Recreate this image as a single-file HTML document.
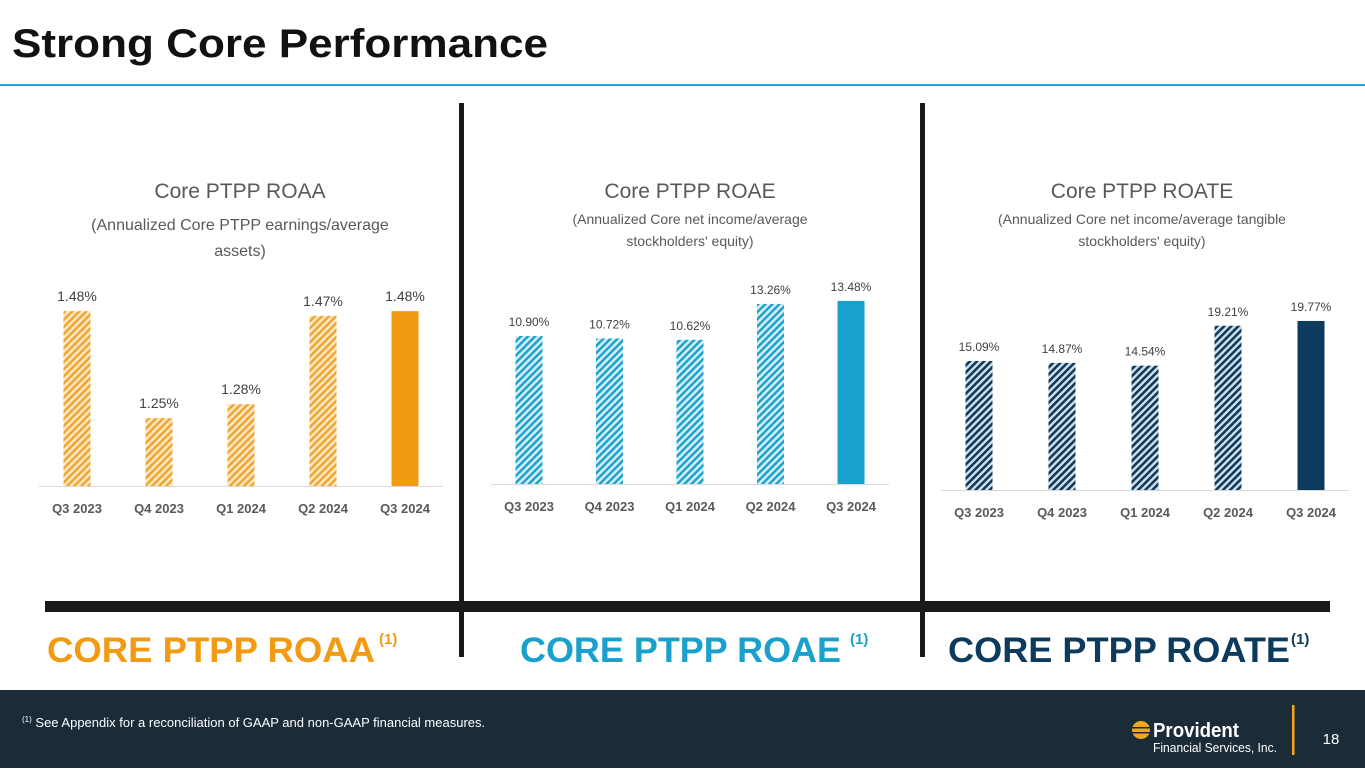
<!DOCTYPE html>
<html><head><meta charset="utf-8"><style>
body{margin:0;width:1365px;height:768px;overflow:hidden;background:#fff;font-family:"Liberation Sans",sans-serif}
svg text{font-family:"Liberation Sans",sans-serif}
</style></head><body>
<svg id="s" width="1365" height="768" viewBox="0 0 1365 768" xmlns="http://www.w3.org/2000/svg">
<defs>
<pattern id="hO" width="5" height="5" patternUnits="userSpaceOnUse" patternTransform="rotate(45)"><rect width="5" height="5" fill="#fde7bf"/><rect width="2.4" height="5" fill="#f0a330"/></pattern>
<pattern id="hB" width="5" height="5" patternUnits="userSpaceOnUse" patternTransform="rotate(45)"><rect width="5" height="5" fill="#d2eef8"/><rect width="2.4" height="5" fill="#1aa0cc"/></pattern>
<pattern id="hN" width="5" height="5" patternUnits="userSpaceOnUse" patternTransform="rotate(45)"><rect width="5" height="5" fill="#d5e0ea"/><rect width="2.6" height="5" fill="#0d3b5e"/></pattern>
</defs>
<text x="12" y="57" font-size="40" font-weight="bold" fill="#111" textLength="536" lengthAdjust="spacingAndGlyphs">Strong Core Performance</text>
<rect x="0" y="84" width="1365" height="2" fill="#2aa3d8"/>
<rect x="459" y="103" width="5" height="554" fill="#1a1a1a"/>
<rect x="920" y="103" width="5" height="554" fill="#1a1a1a"/>
<rect x="45" y="601" width="1285" height="11" fill="#1a1a1a"/>
<g id="charts"></g>
<text x="47" y="662" font-size="35" font-weight="bold" fill="#f29a11" textLength="328" lengthAdjust="spacingAndGlyphs">CORE PTPP ROAA</text>
<text x="379" y="644" font-size="15" font-weight="bold" fill="#f29a11">(1)</text>
<text x="520" y="662" font-size="35" font-weight="bold" fill="#1aa0cc" textLength="321" lengthAdjust="spacingAndGlyphs">CORE PTPP ROAE</text>
<text x="850" y="644" font-size="15" font-weight="bold" fill="#1aa0cc">(1)</text>
<text x="948" y="662" font-size="35" font-weight="bold" fill="#0d3b5e" textLength="342" lengthAdjust="spacingAndGlyphs">CORE PTPP ROATE</text>
<text x="1291" y="644" font-size="15" font-weight="bold" fill="#0d3b5e">(1)</text>
<rect x="0" y="690" width="1365" height="78" fill="#1b2b38"/>
<text x="22" y="727" font-size="13" fill="#fff"><tspan font-size="8" dy="-5">(1)</tspan><tspan dy="5"> See Appendix for a reconciliation of GAAP and non-GAAP financial measures.</tspan></text>
<g>
<circle cx="1141" cy="730" r="9" fill="#f0a81c"/>
<rect x="1131" y="727" width="20" height="1.5" fill="#1b2b38"/><rect x="1131" y="732" width="20" height="1.5" fill="#1b2b38"/>
<text x="1153" y="737" font-size="20" font-weight="bold" fill="#fff" textLength="86" lengthAdjust="spacingAndGlyphs">Provident</text>
<text x="1153" y="752" font-size="13" fill="#fff" textLength="124" lengthAdjust="spacingAndGlyphs">Financial Services, Inc.</text>
</g>
<rect x="1292" y="705" width="2.5" height="50" fill="#f0a81c"/>
<text x="1331" y="744" font-size="15" fill="#fff" text-anchor="middle">18</text>
</svg>
<script>
const categories=["Q3 2023","Q4 2023","Q1 2024","Q2 2024","Q3 2024"];
const roaaValues=[1.48,1.25,1.28,1.47,1.48];
const roaeValues=[10.90,10.72,10.62,13.26,13.48];
const roateValues=[15.09,14.87,14.54,19.21,19.77];
const NS="http://www.w3.org/2000/svg";
const g=document.getElementById('charts');
function mk(t,a){const e=document.createElementNS(NS,t);for(const k in a)e.setAttribute(k,a[k]);return e;}
function chart(key,vals,cfg){
  const y=v=>cfg.base-(v-cfg.min)*cfg.scale;
  const grp=mk('g',{});
  
  
  const t=mk('text',{x:cfg.cx,y:cfg.titleY,'font-size':21,fill:'#595959','text-anchor':'middle'});t.textContent=cfg.title;
  
  
  grp.appendChild(t);
  cfg.sub.forEach((s,i)=>{const st=mk('text',{x:cfg.cx,y:cfg.titleY+cfg.subY0+i*cfg.subDy,'font-size':cfg.subSize,fill:'#595959','text-anchor':'middle'});st.textContent=s;
    
    
    grp.appendChild(st);});
  const ax=mk('rect',{x:cfg.x0-38,y:cfg.base,width:cfg.step*4+76,height:1,fill:'#d9d9d9'});
  
  
  grp.appendChild(ax);
  vals.forEach((v,i)=>{
    const cx=cfg.x0+i*cfg.step,top=y(v);
    const b=mk('rect',{x:cx-13.5,y:top,width:27,height:cfg.base-top,fill:i==4?cfg.solid:cfg.hatch});
    
    
    grp.appendChild(b);
    const l=mk('text',{x:cx,y:top-cfg.lblOff,'font-size':cfg.lblSize,fill:'#404040','text-anchor':'middle'});l.textContent=v.toFixed(2)+'%';
    
    
    grp.appendChild(l);
    const c=mk('text',{x:cx,y:cfg.base+cfg.catOff,'font-size':13,'font-weight':'bold',fill:'#595959','text-anchor':'middle'});c.textContent=categories[i];
    
    
    grp.appendChild(c);
  });
  g.appendChild(grp);
}
chart('roaa',roaaValues,{base:486,min:1.104,scale:465,x0:77,step:82,cx:240,titleY:198,title:'Core PTPP ROAA',sub:['(Annualized Core PTPP earnings/average','assets)'],subY0:32,subDy:26,subSize:16,solid:'#f29a11',hatch:'url(#hO)',lblOff:10,lblSize:14,catOff:27});
chart('roae',roaeValues,{base:484,min:0,scale:13.58,x0:529,step:80.5,cx:690,titleY:198,title:'Core PTPP ROAE',sub:['(Annualized Core net income/average',"stockholders' equity)"],subY0:26,subDy:22,subSize:14,solid:'#1aa0cc',hatch:'url(#hB)',lblOff:10,lblSize:12,catOff:27});
chart('roate',roateValues,{base:490,min:0,scale:8.55,x0:979,step:83,cx:1142,titleY:198,title:'Core PTPP ROATE',sub:['(Annualized Core net income/average tangible',"stockholders' equity)"],subY0:26,subDy:22,subSize:14,solid:'#0d3b5e',hatch:'url(#hN)',lblOff:10,lblSize:12,catOff:27});
</script>
</body></html>
